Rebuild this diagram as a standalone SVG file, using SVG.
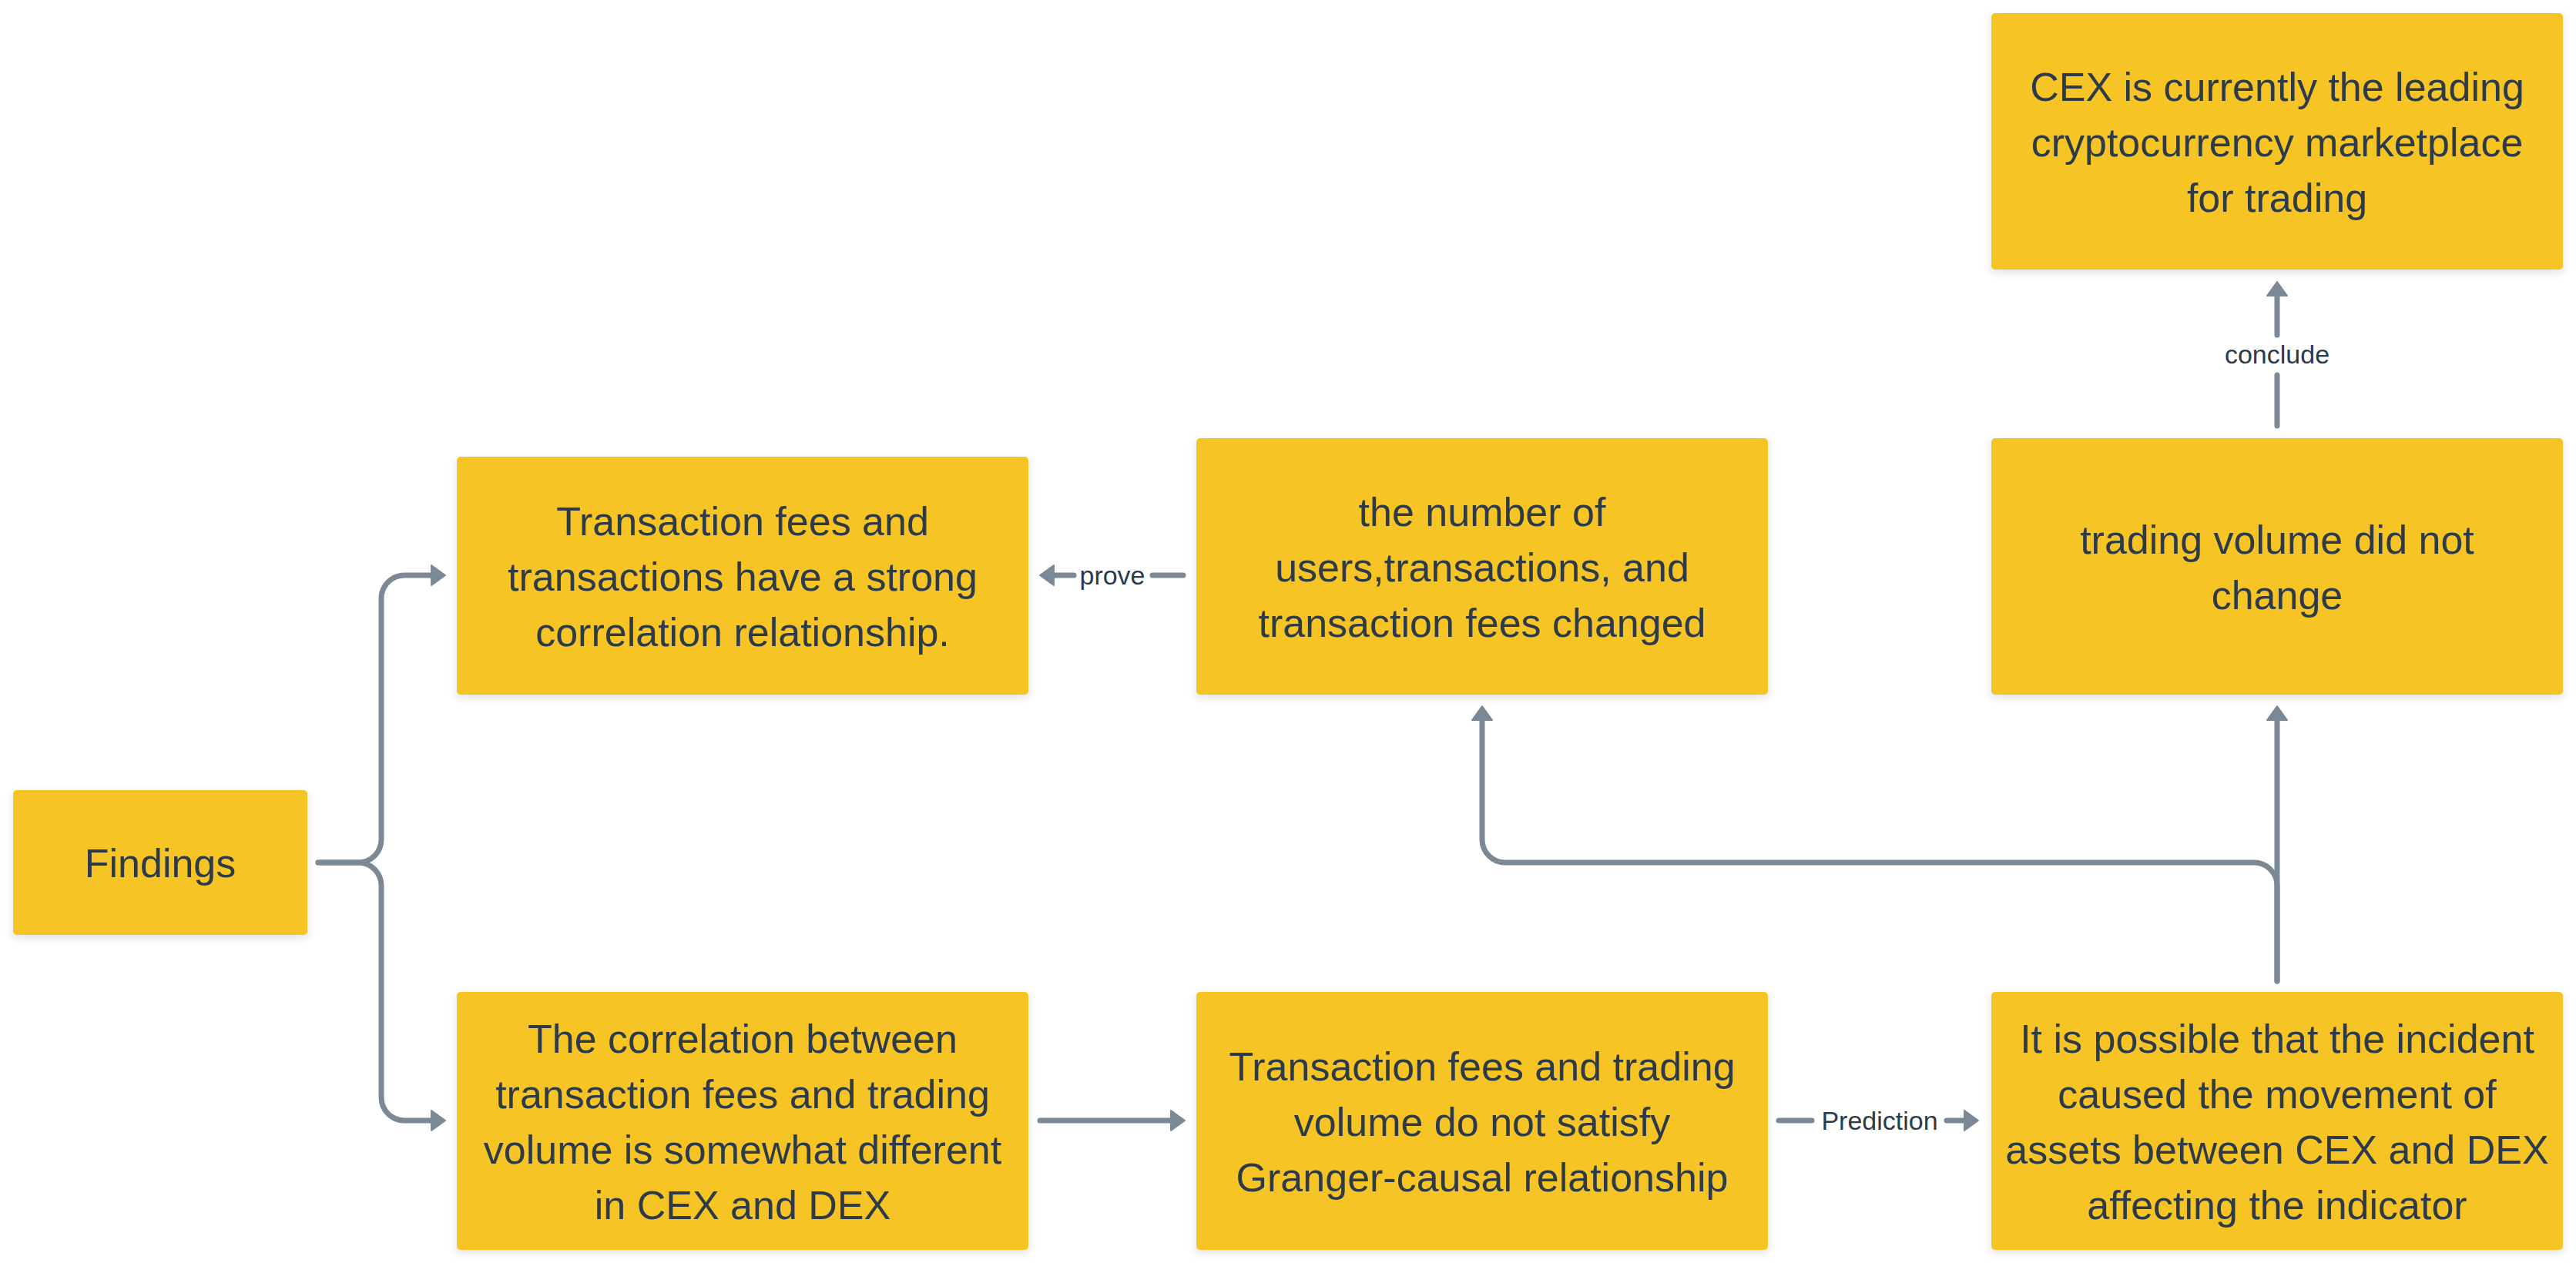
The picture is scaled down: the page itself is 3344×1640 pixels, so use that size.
<svg xmlns="http://www.w3.org/2000/svg" width="3344" height="1640" viewBox="0 0 3344 1640">
<defs>
<filter id="sh" x="-10%" y="-10%" width="120%" height="130%">
<feDropShadow dx="0" dy="4" stdDeviation="6" flood-color="#000" flood-opacity="0.12"/>
</filter>
<marker id="ah" markerUnits="userSpaceOnUse" markerWidth="22" markerHeight="30" refX="1" refY="15" orient="auto" viewBox="0 0 22 30">
<path d="M1,2 L19,15 L1,28 Z" fill="#7b8896" stroke="#7b8896" stroke-width="2" stroke-linejoin="round"/>
</marker>
<style>
.box{fill:#f7c427;filter:url(#sh);}
.t{font-family:"Liberation Sans",Arial,sans-serif;font-size:52px;fill:#2d3a48;text-anchor:middle;}
.lbl{font-family:"Liberation Sans",Arial,sans-serif;font-size:34px;fill:#2d3a48;text-anchor:middle;}
.c{fill:none;stroke:#7b8896;stroke-width:7;stroke-linecap:round;stroke-linejoin:round;}
</style>
</defs>
<rect width="3344" height="1640" fill="#ffffff"/>

<g id="connectors">
<path class="c" d="M413,1120 H465 A30,30 0 0 0 495,1090 V777 A30,30 0 0 1 525,747 H560" marker-end="url(#ah)"/>
<path class="c" d="M413,1120 H465 A30,30 0 0 1 495,1150 V1425 A30,30 0 0 0 525,1455 H560" marker-end="url(#ah)"/>
<path class="c" d="M1536,747 H1496"/>
<path class="c" d="M1394,747 H1368" marker-end="url(#ah)"/>
<text class="lbl" x="1444" y="759">prove</text>
<path class="c" d="M1350,1455 H1520" marker-end="url(#ah)"/>
<path class="c" d="M2309,1455 H2352"/>
<path class="c" d="M2527,1455 H2550" marker-end="url(#ah)"/>
<text class="lbl" x="2440" y="1467">Prediction</text>
<path class="c" d="M2956,1274 V935" marker-end="url(#ah)"/>
<path class="c" d="M2956,1274 V1150 A30,30 0 0 0 2926,1120 H1954 A30,30 0 0 1 1924,1090 V935" marker-end="url(#ah)"/>
<path class="c" d="M2956,553 V487"/>
<path class="c" d="M2956,435 V384" marker-end="url(#ah)"/>
<text class="lbl" x="2956" y="472">conclude</text>
</g>

<g id="findings">
<rect class="box" x="17" y="1026" width="382" height="188" rx="5"/>
<text class="t" x="208" y="1139">Findings</text>
</g>

<g id="node-strong-correlation">
<rect class="box" x="593" y="593" width="742" height="309" rx="5"/>
<text class="t" x="964" y="694.5">Transaction fees and</text>
<text class="t" x="964" y="766.5">transactions have a strong</text>
<text class="t" x="964" y="838.5">correlation relationship.</text>
</g>

<g id="node-number-changed">
<rect class="box" x="1553" y="569" width="742" height="333" rx="5"/>
<text class="t" x="1924" y="682.5">the number of</text>
<text class="t" x="1924" y="754.5">users,transactions, and</text>
<text class="t" x="1924" y="826.5">transaction fees changed</text>
</g>

<g id="node-volume-unchanged">
<rect class="box" x="2585" y="569" width="742" height="333" rx="5"/>
<text class="t" x="2956" y="718.5">trading volume did not</text>
<text class="t" x="2956" y="790.5">change</text>
</g>

<g id="node-cex-leading">
<rect class="box" x="2585" y="17" width="742" height="333" rx="5"/>
<text class="t" x="2956" y="130.5">CEX is currently the leading</text>
<text class="t" x="2956" y="202.5">cryptocurrency marketplace</text>
<text class="t" x="2956" y="274.5">for trading</text>
</g>

<g id="node-correlation-different">
<rect class="box" x="593" y="1288" width="742" height="335" rx="5"/>
<text class="t" x="964" y="1366.5">The correlation between</text>
<text class="t" x="964" y="1438.5">transaction fees and trading</text>
<text class="t" x="964" y="1510.5">volume is somewhat different</text>
<text class="t" x="964" y="1582.5">in CEX and DEX</text>
</g>

<g id="node-granger">
<rect class="box" x="1553" y="1288" width="742" height="335" rx="5"/>
<text class="t" x="1924" y="1402.5">Transaction fees and trading</text>
<text class="t" x="1924" y="1474.5">volume do not satisfy</text>
<text class="t" x="1924" y="1546.5">Granger-causal relationship</text>
</g>

<g id="node-incident">
<rect class="box" x="2585" y="1288" width="742" height="335" rx="5"/>
<text class="t" x="2956" y="1366.5">It is possible that the incident</text>
<text class="t" x="2956" y="1438.5">caused the movement of</text>
<text class="t" x="2956" y="1510.5">assets between CEX and DEX</text>
<text class="t" x="2956" y="1582.5">affecting the indicator</text>
</g>
</svg>
